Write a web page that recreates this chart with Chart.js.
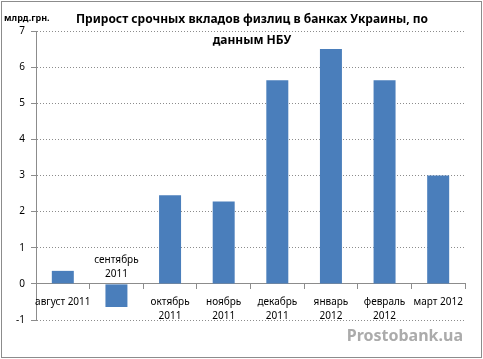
<!DOCTYPE html>
<html><head><meta charset="utf-8">
<script src="https://cdn.jsdelivr.net/npm/chart.js@4"></script>
<style>html,body{margin:0;padding:0;background:#fff}#wrap{width:483px;height:359px}</style>
</head><body><div id="wrap"><canvas id="c" width="483" height="359"></canvas></div>
<script>
const categories = [["август 2011"], ["сентябрь","2011"], ["октябрь","2011"], ["ноябрь","2011"], ["декабрь","2011"], ["январь","2012"], ["февраль","2012"], ["март 2012"]];
const values = [0.36, -0.64, 2.45, 2.28, 5.64, 6.5, 5.64, 3.0];
const titleLines = ["Прирост срочных вкладов физлиц в банках Украины, по", "данным НБУ"];
const unitLabel = "млрд.грн.";
const watermark = "Prostobank.ua";
const yMin = -1, yMax = 7;

const FONT = "'Noto Sans', 'DejaVu Sans', sans-serif";

const deco = {
  id: 'deco',
  beforeDraw(chart) {
    const ctx = chart.ctx;
    ctx.save();
    ctx.fillStyle = '#fff';
    ctx.fillRect(0, 0, chart.width, chart.height);
    ctx.strokeStyle = '#8c8c8c';
    ctx.lineWidth = 1;
    ctx.strokeRect(1.5, 1.5, chart.width - 3, chart.height - 3);
    ctx.restore();
  },
  afterDraw(chart) {
    const ctx = chart.ctx;
    const xs = chart.scales.x, ys = chart.scales.y;
    ctx.save();
    ctx.fillStyle = '#000';
    ctx.textAlign = 'center';
    ctx.textBaseline = 'middle';
    ctx.font = "bold 12px " + FONT;
    ctx.fillText(titleLines[0], 252, 20);
    ctx.fillText(titleLines[1], 252, 41);
    ctx.font = "bold 9px " + FONT;
    ctx.textAlign = 'left';
    ctx.fillText(unitLabel, 4, 18);
    ctx.font = "10px " + FONT;
    ctx.textAlign = 'center';
    const y0 = ys.getPixelForValue(0);
    categories.forEach((lab, i) => {
      const x = xs.getPixelForValue(i);
      let top = values[i] < 0 ? y0 - 24 : y0 + 18;
      lab.forEach((line, k) => ctx.fillText(line, x, top + k * 14));
    });
    ctx.font = "bold 16px " + FONT;
    ctx.fillStyle = '#ababab';
    ctx.textAlign = 'right';
    ctx.fillText(watermark, 463, 336);
    ctx.restore();
  }
};

new Chart(document.getElementById('c'), {
  type: 'bar',
  data: {
    labels: categories,
    datasets: [{
      data: values,
      backgroundColor: '#4a7ebb',
      borderWidth: 0,
      categoryPercentage: 1.0,
      barPercentage: 0.41
    }]
  },
  options: {
    responsive: false,
    animation: false,
    events: [],
    layout: { padding: { top: 31, right: 18, bottom: 39, left: 0 } },
    plugins: { legend: { display: false }, tooltip: { enabled: false }, title: { display: false } },
    scales: {
      x: {
        position: { y: 0 },
        offset: true,
        border: { display: true, color: '#8c8c8c', width: 1 },
        grid: { offset: true, drawOnChartArea: false, drawTicks: true, tickLength: 5, color: '#8c8c8c' },
        ticks: { display: false }
      },
      y: {
        min: yMin, max: yMax,
        afterFit(s) { s.width = 36; },
        border: { display: true, color: '#8c8c8c', width: 1, dash: [1, 2] },
        grid: { color: '#8c8c8c', tickLength: 5, tickBorderDash: [], tickColor: '#8c8c8c' },
        ticks: { stepSize: 1, color: '#000', font: { family: FONT, size: 10 }, padding: 6 }
      }
    }
  },
  plugins: [deco]
});
</script></body></html>
